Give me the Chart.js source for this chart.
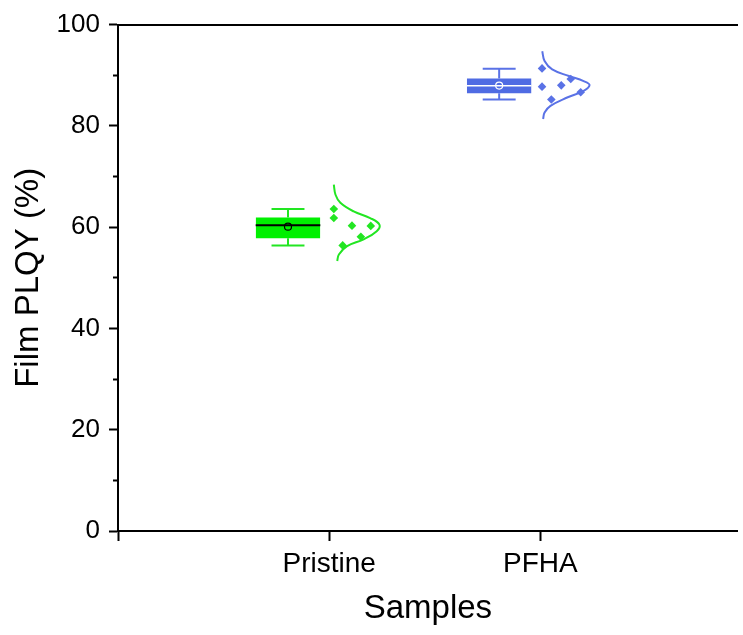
<!DOCTYPE html>
<html>
<head>
<meta charset="utf-8">
<title>Film PLQY</title>
<script src="https://cdn.jsdelivr.net/npm/chart.js"></script>
<style>
  html, body { margin: 0; padding: 0; background: #fff; overflow: hidden; }
  canvas { display: block; }
</style>
</head>
<body>
<canvas id="plqyChart" width="743" height="635"></canvas>
<script>
// samples on the x axis (positions 1, 2)
const categories = ['Pristine', 'PFHA'];
const yTicks = [0, 20, 40, 60, 80, 100];

// measured film PLQY values (%)
const pristineValues = [63.6, 61.8, 60.3, 60.25, 58.1, 56.4];
const pfhaValues = [91.35, 87.75, 88.0, 89.25, 86.65, 85.2];

// box statistics, one entry per sample
const whiskerLow = [56.4, 85.2];
const q1 = [57.8, 86.45];
const median = [60.4, 87.9];
const q3 = [61.9, 89.35];
const whiskerHigh = [63.6, 91.3];
const means = [60.1, 87.95];

// normal distribution curves: PLQY level and curve height (x units)
const pristineCurveY = [68.4, 66.4, 64.8, 63.1, 61.8, 60.5, 59.2, 57.6, 56.25, 54.6, 53.3];
const pristineCurveW = [0.022, 0.030, 0.053, 0.116, 0.194, 0.238, 0.225, 0.163, 0.085, 0.046, 0.038];
const pfhaCurveY = [94.75, 92.8, 91.15, 89.85, 88.85, 88.05, 86.9, 85.6, 83.95, 82.65, 81.35];
const pfhaCurveW = [0.009, 0.020, 0.056, 0.135, 0.205, 0.233, 0.205, 0.127, 0.048, 0.020, 0.013];

// layout of each group around its category position
const BOX_OFFSET = -0.195;
const BOX_HALF = 0.153;
const CAP_HALF = 0.078;
const pristineJitter = [0.022, 0.022, 0.108, 0.197, 0.150, 0.064];
const pfhaJitter = [0.008, 0.008, 0.099, 0.144, 0.191, 0.052];

const groups = [
  { values: pristineValues, jitter: pristineJitter, curveY: pristineCurveY, curveW: pristineCurveW,
    box: '#00f000', line: '#22e622', medianColor: '#000000' },
  { values: pfhaValues, jitter: pfhaJitter, curveY: pfhaCurveY, curveW: pfhaCurveW,
    box: '#4f6be3', line: '#5a72e6', medianColor: '#ffffff' }
];

const FONT = "'Liberation Sans', Arial, sans-serif";

const front = [];
const back = [];
groups.forEach((g, i) => {
  const pos = i + 1;
  const c = pos + BOX_OFFSET;
  const base = { type: 'line', pointRadius: 0, fill: false, tension: 0 };

  // mean marker
  front.push({
    ...base, showLine: false,
    data: [{ x: c, y: means[i] }],
    pointRadius: 3.5, pointStyle: 'circle',
    pointBackgroundColor: 'rgba(0,0,0,0)', pointBorderColor: g.medianColor, pointBorderWidth: 1.2
  });
  // median line
  front.push({
    ...base,
    data: [{ x: c - BOX_HALF, y: median[i] }, { x: c + BOX_HALF, y: median[i] }],
    borderColor: g.medianColor, borderWidth: i === 0 ? 2 : 1.5
  });
  // whiskers and caps
  front.push({
    ...base,
    data: [
      { x: c - CAP_HALF, y: whiskerHigh[i] }, { x: c + CAP_HALF, y: whiskerHigh[i] }, { x: c, y: null },
      { x: c, y: whiskerHigh[i] }, { x: c, y: q3[i] }, { x: c, y: null },
      { x: c, y: q1[i] }, { x: c, y: whiskerLow[i] }, { x: c, y: null },
      { x: c - CAP_HALF, y: whiskerLow[i] }, { x: c + CAP_HALF, y: whiskerLow[i] }
    ],
    borderColor: g.line, borderWidth: 2, spanGaps: false
  });
  // individual measurements
  front.push({
    ...base, showLine: false,
    data: g.values.map((v, k) => ({ x: pos + g.jitter[k], y: v })),
    pointRadius: 4.3, pointStyle: 'rectRot',
    pointBackgroundColor: g.line, pointBorderColor: g.line, pointBorderWidth: 0
  });
  // distribution curve
  front.push({
    ...base,
    data: g.curveY.map((v, k) => ({ x: pos + g.curveW[k], y: v })),
    borderColor: g.line, borderWidth: 2, tension: 0.4
  });
  // box body
  back.push({
    ...base,
    data: [{ x: c - BOX_HALF, y: q3[i] }, { x: c + BOX_HALF, y: q3[i] }],
    borderWidth: 0, borderColor: g.box,
    fill: { value: q1[i] }, backgroundColor: g.box
  });
});

new Chart(document.getElementById('plqyChart'), {
  type: 'line',
  data: { datasets: [...front, ...back] },
  options: {
    responsive: false,
    animation: false,
    layout: { padding: 0 },
    plugins: { legend: { display: false }, tooltip: { enabled: false } },
    scales: {
      x: {
        type: 'linear', position: 'bottom', min: 0, max: 2.935,
        afterBuildTicks: (s) => { s.ticks = [0, 1, 2].map(v => ({ value: v })); },
        afterFit: (s) => { s.height = 104; },
        ticks: {
          padding: 6, color: '#000',
          font: { family: FONT, size: 28 },
          callback: (v) => categories[v - 1] || ''
        },
        grid: { drawOnChartArea: false, drawTicks: true, tickLength: 10, tickWidth: 2, tickColor: '#000' },
        border: { display: true, color: '#000', width: 2 },
        title: {
          display: true, text: 'Samples', color: '#000',
          font: { family: FONT, size: 33 }, padding: { top: 0, bottom: 6 }
        }
      },
      xTop: {
        type: 'linear', position: 'top', min: 0, max: 2.935,
        afterFit: (s) => { s.height = 22; },
        ticks: { display: false },
        grid: { display: false },
        border: { display: true, color: '#000', width: 2 }
      },
      y: {
        type: 'linear', position: 'left', min: 0, max: 100, weight: 1,
        afterBuildTicks: (s) => { s.ticks = yTicks.map(v => ({ value: v })); },
        afterFit: (s) => { s.width = 118; },
        ticks: { padding: 9, color: '#000', font: { family: FONT, size: 26 } },
        grid: { drawOnChartArea: false, drawTicks: true, tickLength: 9, tickWidth: 2, tickColor: '#000' },
        border: { display: true, color: '#000', width: 2 },
        title: {
          display: true, text: 'Film PLQY (%)', color: '#000',
          font: { family: FONT, size: 33 }, padding: { top: 9, bottom: 0 }
        }
      },
      yMinor: {
        type: 'linear', position: 'left', min: 0, max: 100, weight: 0,
        afterBuildTicks: (s) => {
          s.ticks = yTicks.slice(0, -1).map(v => ({ value: v + 10 }));
        },
        afterFit: (s) => { s.width = 0; },
        ticks: { display: false },
        grid: { drawOnChartArea: false, drawTicks: true, tickLength: 5, tickWidth: 2, tickColor: '#000' },
        border: { display: false }
      }
    }
  }
});
</script>
</body>
</html>
